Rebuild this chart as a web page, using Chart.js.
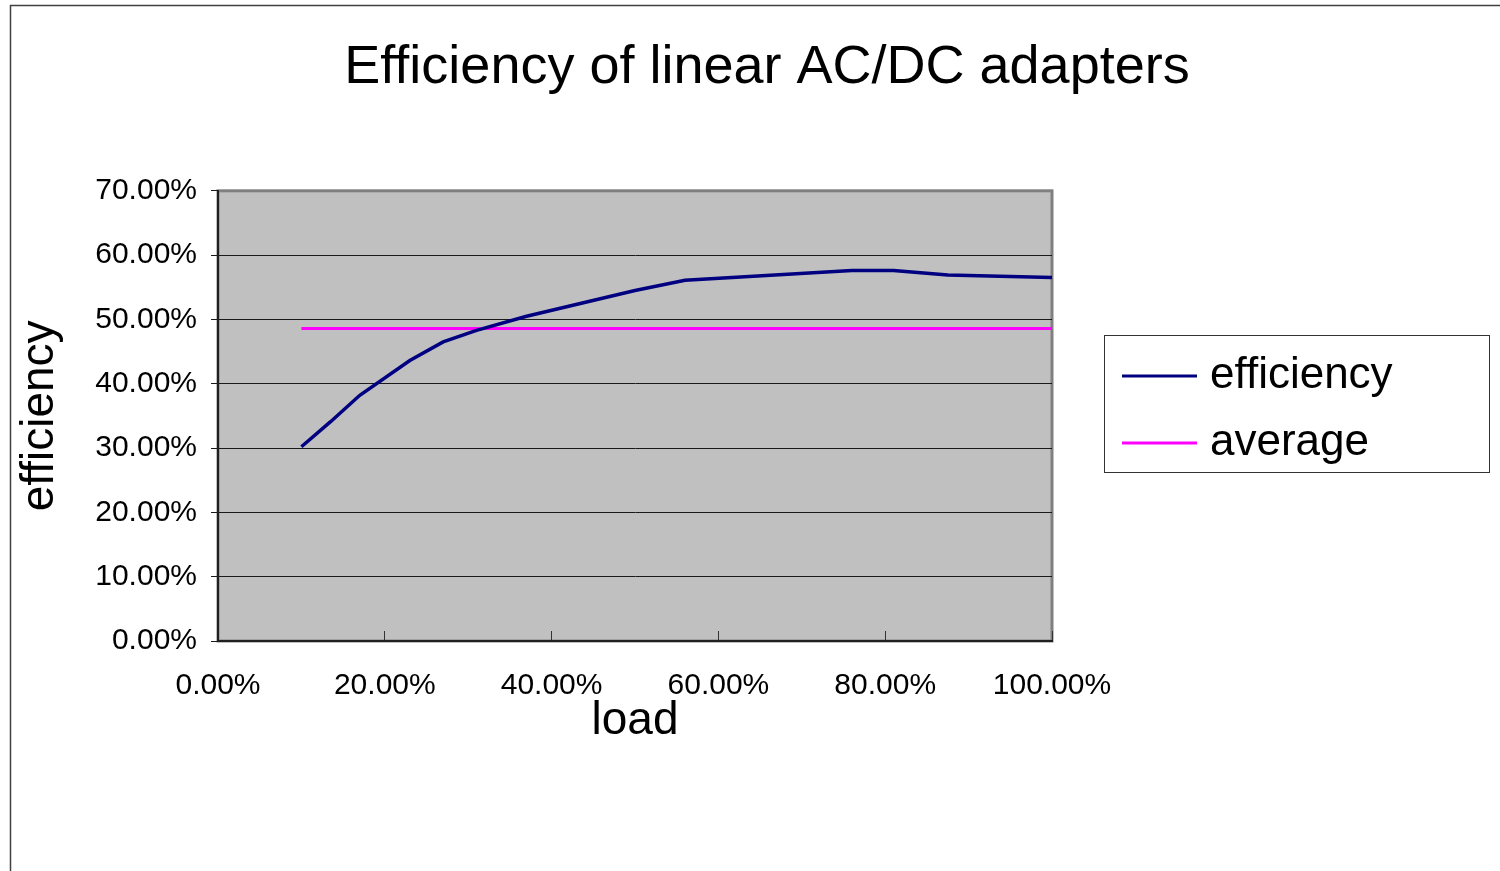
<!DOCTYPE html>
<html>
<head>
<meta charset="utf-8">
<title>Efficiency of linear AC/DC adapters</title>
<script src="https://cdn.jsdelivr.net/npm/chart.js@4.4.1/dist/chart.umd.min.js"></script>
<style>
  html, body { margin: 0; padding: 0; background: #fff; overflow: hidden; }
  #wrap { width: 1500px; height: 871px; }
</style>
</head>
<body>
<div id="wrap"><canvas id="chart"></canvas></div>
<script>
// Chart texts
const titleText = 'Efficiency of linear AC/DC adapters';
const xTitle = 'load';
const yTitle = 'efficiency';

// Load (fraction of rated output) and measured efficiency
const loadPoints = [0.10, 0.135, 0.17, 0.23, 0.27, 0.31, 0.37, 0.50, 0.56, 0.76, 0.81, 0.875, 1.00];
const efficiency = [0.302, 0.341, 0.382, 0.436, 0.465, 0.483, 0.505, 0.545, 0.561, 0.576, 0.576, 0.569, 0.565];

// Average efficiency line
const averageLoads = [0.10, 1.00];
const averageValues = [0.486, 0.486];

const seriesNames = ['efficiency', 'average'];
const seriesColors = ['#000080', '#ff00ff'];

const fontFamily = "'Liberation Sans', Arial, sans-serif";
Chart.defaults.font.family = fontFamily;
Chart.defaults.color = '#000';

function toPoints(xs, ys) {
    return xs.map((x, i) => ({ x: x, y: ys[i] }));
}

function percent(v) {
    return (v * 100).toFixed(2) + '%';
}

// Grey plot area and the outer frame
const plotBackground = {
    id: 'plotBackground',
    beforeDraw(chart) {
        const { ctx, chartArea: a } = chart;
        ctx.save();
        ctx.strokeStyle = '#404040';
        ctx.lineWidth = 1.5;
        ctx.strokeRect(10.5, 5.5, chart.width, chart.height);
        ctx.fillStyle = '#c0c0c0';
        ctx.fillRect(a.left, a.top, a.width, a.height);
        ctx.strokeStyle = '#808080';
        ctx.lineWidth = 3;
        ctx.strokeRect(a.left, a.top, a.width, a.height);
        ctx.restore();
    }
};

// Boxed legend to the right of the plot
const boxLegend = {
    id: 'boxLegend',
    afterDraw(chart) {
        const ctx = chart.ctx;
        const left = chart.chartArea.right + 52;
        const top = 335;
        ctx.save();
        ctx.strokeStyle = '#333';
        ctx.lineWidth = 1;
        ctx.strokeRect(left + 0.5, top + 0.5, 385, 137);
        ctx.font = '44px ' + fontFamily;
        ctx.textBaseline = 'middle';
        ctx.fillStyle = '#000';
        chart.data.datasets.forEach((ds, i) => {
            const y = top + 41 + i * 67;
            ctx.strokeStyle = ds.borderColor;
            ctx.lineWidth = 3;
            ctx.beginPath();
            ctx.moveTo(left + 18, y);
            ctx.lineTo(left + 93, y);
            ctx.stroke();
            ctx.fillText(ds.label, left + 106, y);
        });
        ctx.restore();
    }
};

const chart = new Chart(document.getElementById('chart'), {
    type: 'line',
    data: {
        datasets: [
            {
                label: seriesNames[0],
                data: toPoints(loadPoints, efficiency),
                borderColor: seriesColors[0],
                borderWidth: 3.5,
                pointRadius: 0,
                tension: 0
            },
            {
                label: seriesNames[1],
                data: toPoints(averageLoads, averageValues),
                borderColor: seriesColors[1],
                borderWidth: 3,
                pointRadius: 0,
                tension: 0
            }
        ]
    },
    options: {
        responsive: true,
        maintainAspectRatio: false,
        animation: false,
        layout: { padding: { left: 34, right: 0, top: 0, bottom: 119 } },
        plugins: {
            legend: { display: false },
            tooltip: { enabled: false },
            title: {
                display: true,
                text: titleText,
                font: { size: 54, weight: 'normal' },
                padding: { top: 36, bottom: 90 }
            }
        },
        scales: {
            x: {
                type: 'linear',
                min: 0,
                max: 1,
                ticks: {
                    stepSize: 0.2,
                    padding: 37,
                    maxRotation: 0,
                    font: { size: 30 },
                    callback: percent
                },
                grid: {
                    drawOnChartArea: false,
                    tickLength: -10,
                    color: '#333'
                },
                border: { color: '#202020', width: 2 },
                title: {
                    display: true,
                    text: xTitle,
                    font: { size: 46 },
                    padding: { bottom: 3 }
                },
                afterFit(scale) { scale.height = 111; }
            },
            y: {
                type: 'linear',
                min: 0,
                max: 0.7,
                ticks: {
                    stepSize: 0.1,
                    padding: 14,
                    font: { size: 30 },
                    callback: percent
                },
                grid: {
                    tickLength: 7,
                    color: ctx => (ctx.tick && ctx.tick.value >= 0.7 ? '#808080' : '#1a1a1a'),
                    tickColor: '#1a1a1a',
                    lineWidth: 1
                },
                border: { color: '#202020', width: 2 },
                title: {
                    display: true,
                    text: yTitle,
                    font: { size: 46 },
                    padding: { top: -21 }
                },
                afterFit(scale) { scale.width = 184; }
            },
            // empty column on the right that holds the legend
            legendSpace: {
                type: 'linear',
                position: 'right',
                display: true,
                ticks: { display: false },
                grid: { display: false },
                border: { display: false },
                afterFit(scale) { scale.width = 448; }
            }
        }
    },
    plugins: [plotBackground, boxLegend]
});
</script>
</body>
</html>
